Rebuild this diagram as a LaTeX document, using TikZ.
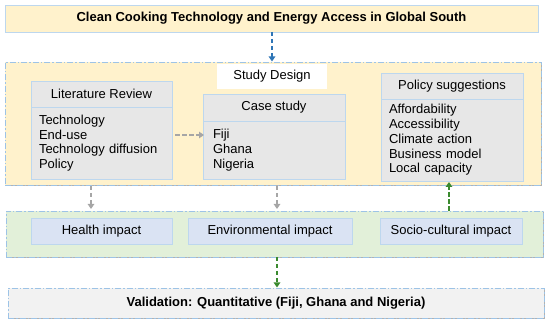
\documentclass[tikz,border=0pt]{standalone}
\usepackage{fontspec}
\setmainfont{Liberation Sans}
\usetikzlibrary{arrows.meta,shadows,calc}
\definecolor{yel}{HTML}{FFF2CC}
\definecolor{grn}{HTML}{E2F0D9}
\definecolor{gbox}{HTML}{E7E7E7}
\definecolor{bord}{HTML}{BDD7EE}
\definecolor{dashb}{HTML}{9DC3E6}
\definecolor{imp}{HTML}{DAE3F3}
\definecolor{valf}{HTML}{F2F2F2}
\definecolor{barr}{HTML}{2E75B6}
\definecolor{garr}{HTML}{A6A6A6}
\definecolor{grarr}{HTML}{3A8A2E}
\begin{document}
\begin{tikzpicture}[x=1pt,y=-1pt,
  every node/.style={font=\fontsize{13}{14.7}\selectfont, inner sep=0pt, outer sep=0pt},
  shad/.style={drop shadow={shadow xshift=1.2pt,shadow yshift=-1.5pt,fill=black!55,opacity=.55}},
  region/.style={rectangle, draw=dashb, line width=0.9pt, dash pattern=on 6pt off 2pt on 1.5pt off 2pt, shad},
  hdr/.style={rectangle, fill=gbox, draw=bord, line width=0.9pt, minimum height=26pt},
  bodyb/.style={rectangle, fill=gbox, draw=bord, line width=0.9pt, align=left},
  impb/.style={rectangle, fill=imp, draw=bord, line width=0.9pt, minimum height=26pt},
  arr/.style={line width=1.8pt, dash pattern=on 4.5pt off 2.5pt, -{Triangle[length=5pt,width=6.5pt]}},
]
\useasboundingbox (0,0) rectangle (550,326);
% top
\node[rectangle, fill=yel, draw=bord, line width=0.9pt, shad, minimum width=533pt, minimum height=27pt, font=\fontsize{13}{15}\selectfont\bfseries] (top) at (271.5,18.5) {Clean Cooking Technology and Energy Access in Global South};
% design region
\node[region, fill=yel, minimum width=536pt, minimum height=123pt] (design) at (273,123.5) {};
\node[rectangle, fill=white, minimum width=110pt, minimum height=25pt] (sd) at (272,76.5) {Study Design};
% literature
\node[bodyb, minimum width=141pt, minimum height=72pt, text width=125pt] (litbody) at (101.5,143) {Technology\\End-use\\Technology diffusion\\Policy};
\node[hdr, minimum width=141pt] (lith) at (101.5,94) {Literature Review};
% case
\node[bodyb, minimum width=142pt, minimum height=58pt, text width=122pt] (casebody) at (274,150) {Fiji\\Ghana\\Nigeria};
\node[hdr, minimum width=142pt, minimum height=27pt] (caseh) at (274,107.5) {Case study};
% policy
\node[bodyb, minimum width=142pt, minimum height=82pt, text width=126pt] (polbody) at (452,140) {Affordability\\Accessibility\\Climate action\\Business model\\Local capacity};
\node[hdr, minimum width=142pt] (polh) at (452,86) {Policy suggestions};
% green region
\node[region, fill=grn, minimum width=537pt, minimum height=46pt] (impact) at (274.5,234) {};
\node[impb, minimum width=141pt] (health) at (101.5,231) {Health impact};
\node[impb, minimum width=164pt] (env) at (270,231) {Environmental impact};
\node[impb, minimum width=142pt] (socio) at (451,231) {Socio-cultural impact};
% validation
\node[region, fill=valf, minimum width=536pt, minimum height=30pt, font=\fontsize{13}{15}\selectfont\bfseries] (val) at (276,303) {Validation: Quantitative (Fiji, Ghana and Nigeria)};
% arrows
\draw[arr, barr] (top.south -| 272,0) -- ([yshift=0.5pt]design.north -| 272,0);
\draw[arr, garr] ($(litbody.east)+(3,-8)$) -- ($(casebody.west)+(1,-15)$);
\draw[arr, garr] ([yshift=-1pt]design.south -| 91,0) -- ([yshift=2pt]impact.north -| 91,0);
\draw[arr, garr] ([yshift=-1pt]design.south -| 277,0) -- ([yshift=2pt]impact.north -| 277,0);
\draw[arr, grarr] (impact.north -| 449,0) -- ([yshift=-1pt]polbody.south -| 449,0);
\draw[arr, grarr] (impact.south -| 277,0) -- ([yshift=0.5pt]val.north -| 277,0);
\end{tikzpicture}
\end{document}
